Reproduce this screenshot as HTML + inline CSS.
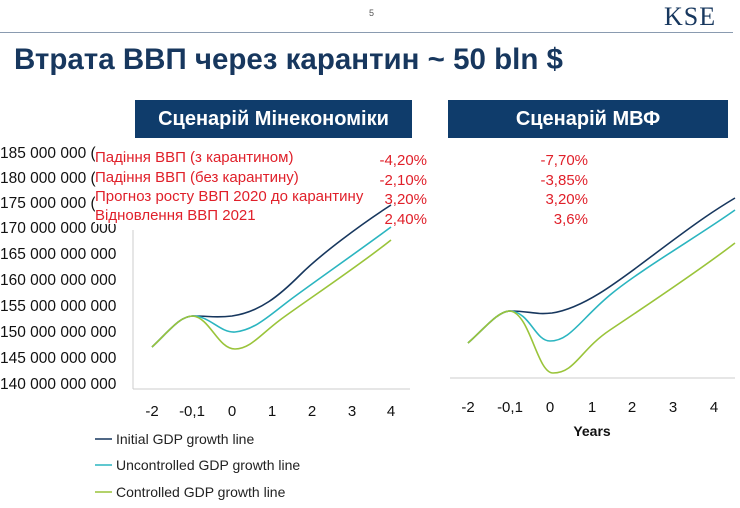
<!DOCTYPE html>
<html><head><meta charset="utf-8"><style>
body{margin:0;width:740px;height:508px;background:#fff;overflow:hidden;position:relative;font-family:"Liberation Sans","DejaVu Sans",sans-serif}
.a{position:absolute;white-space:nowrap}
.box{position:absolute;background:#0f3c6b;color:#fff;font-weight:bold;font-size:20px;text-align:center;line-height:38px;top:100px;height:38px}
.yl{position:absolute;left:0;font-size:15.5px;color:#111}
.r{position:absolute;color:#e0202a;font-size:15px}
.lg{position:absolute;left:116px;font-size:14px;color:#222}
</style></head><body>
<div class="a" style="left:369px;top:8px;font-size:9px;color:#555">5</div>
<div class="a" style="left:664px;top:2px;font-family:'Liberation Serif',serif;font-size:26px;color:#17375e;letter-spacing:1px">KSE</div>
<div class="a" style="left:0;top:32px;width:733px;height:1px;background:#8a9bb0"></div>
<div class="a" style="left:14px;top:43px;font-size:29.5px;font-weight:bold;color:#17375e">Втрата ВВП через карантин ~ 50 bln $</div>
<div class="box" style="left:135px;width:277px">Сценарій Мінекономіки</div>
<div class="box" style="left:448px;width:280px">Сценарій МВФ</div>
<div class="yl" style="top:145px">185 000 000 (</div>
<div class="yl" style="top:170px">180 000 000 (</div>
<div class="yl" style="top:195px">175 000 000 (</div>
<div class="yl" style="top:220px">170 000 000 000</div>
<div class="yl" style="top:246px">165 000 000 000</div>
<div class="yl" style="top:272px">160 000 000 000</div>
<div class="yl" style="top:298px">155 000 000 000</div>
<div class="yl" style="top:324px">150 000 000 000</div>
<div class="yl" style="top:350px">145 000 000 000</div>
<div class="yl" style="top:376px">140 000 000 000</div>
<svg class="a" style="left:0;top:0" width="740" height="508">
<g fill="none" stroke-width="1.6">
<line x1="133" y1="230" x2="133" y2="389" stroke="#ccc" stroke-width="1"/>
<line x1="133" y1="389" x2="410" y2="389" stroke="#ccc" stroke-width="1"/>
<line x1="450" y1="378" x2="735" y2="378" stroke="#ccc" stroke-width="1"/>
<path d="M152,347 C170,330 180,316 193,316 C210,316 215,318 232,316 C260,312 280,295 300,275 S360,225 391,205" stroke="#17375e"/>
<path d="M152,347 C170,330 180,316 193,316 C210,316 220,333 235,332 C255,330 270,315 290,300 S360,250 391,227" stroke="#2bb5c0"/>
<path d="M152,347 C170,330 180,316 193,316 C210,318 218,349 235,349 C250,349 260,335 280,320 S360,265 391,240" stroke="#9ac43a"/>
<path d="M468,343 C485,328 498,311 510,311 C530,311 535,315 552,313 C585,308 620,280 660,250 S715,210 735,198" stroke="#17375e"/>
<path d="M468,343 C485,328 498,311 510,311 C530,312 535,341 550,341 C570,341 580,320 610,295 S700,235 735,210" stroke="#2bb5c0"/>
<path d="M468,343 C485,328 498,311 510,311 C530,313 537,373 553,373 C575,373 580,350 610,330 S700,270 735,243" stroke="#9ac43a"/>
<line x1="95" y1="439" x2="112" y2="439" stroke="#17375e"/>
<line x1="95" y1="465" x2="112" y2="465" stroke="#2bb5c0"/>
<line x1="95" y1="492" x2="112" y2="492" stroke="#9ac43a"/>
</g>
<g font-size="15" fill="#111" text-anchor="middle" font-family="Liberation Sans,sans-serif">
<text x="152" y="416">-2</text><text x="192" y="416">-0,1</text><text x="232" y="416">0</text><text x="272" y="416">1</text><text x="312" y="416">2</text><text x="352" y="416">3</text><text x="391" y="416">4</text>
<text x="468" y="412">-2</text><text x="510" y="412">-0,1</text><text x="550" y="412">0</text><text x="592" y="412">1</text><text x="632" y="412">2</text><text x="673" y="412">3</text><text x="714" y="412">4</text>
<text x="592" y="436" font-weight="bold" font-size="14">Years</text>
</g>
</svg>
<div class="r" style="left:95px;top:149px;background:#fff">Падіння ВВП (з карантином)</div>
<div class="r" style="left:95px;top:169px;background:#fff">Падіння ВВП (без карантину)</div>
<div class="r" style="left:95px;top:188px;background:#fff">Прогноз росту ВВП 2020 до карантину</div>
<div class="r" style="left:95px;top:207px;background:#fff">Відновлення ВВП 2021</div>
<div class="r" style="left:360px;width:67px;text-align:right;top:152px">-4,20%</div>
<div class="r" style="left:360px;width:67px;text-align:right;top:172px">-2,10%</div>
<div class="r" style="left:360px;width:67px;text-align:right;top:191px">3,20%</div>
<div class="r" style="left:360px;width:67px;text-align:right;top:211px">2,40%</div>
<div class="r" style="left:520px;width:68px;text-align:right;top:152px">-7,70%</div>
<div class="r" style="left:520px;width:68px;text-align:right;top:172px">-3,85%</div>
<div class="r" style="left:520px;width:68px;text-align:right;top:191px">3,20%</div>
<div class="r" style="left:520px;width:68px;text-align:right;top:211px">3,6%</div>
<div class="lg" style="top:431px">Initial GDP growth line</div>
<div class="lg" style="top:457px">Uncontrolled GDP growth line</div>
<div class="lg" style="top:484px">Controlled GDP growth line</div>
</body></html>
